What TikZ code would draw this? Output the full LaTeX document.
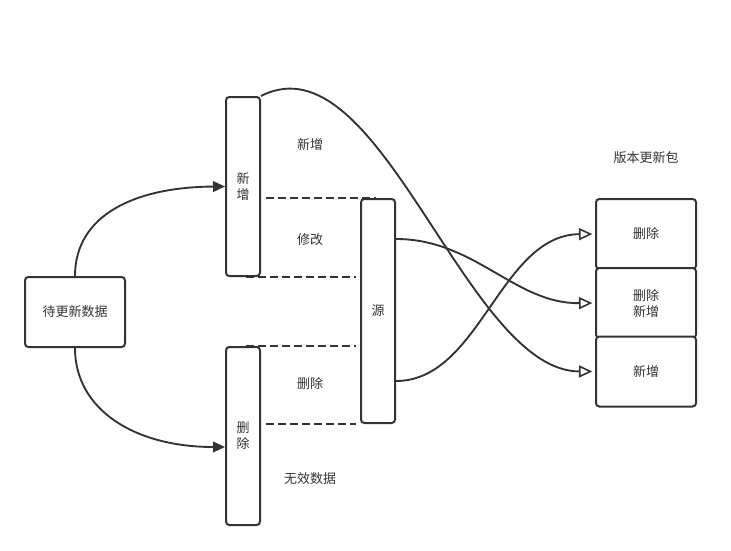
\documentclass[tikz,border=0pt]{standalone}
\usepackage{fontspec}
\newfontfamily\cjk{Noto Sans CJK SC}
\usetikzlibrary{arrows.meta,calc}
\definecolor{ln}{HTML}{333333}
\definecolor{tx}{HTML}{333333}
\begin{document}
\begin{tikzpicture}[x=0.75pt,y=-0.75pt,
  every node/.style={font=\cjk\fontsize{9.75}{12}\selectfont,text=tx,align=center,inner sep=0pt},
  box/.style={draw=ln,line width=1.5pt,rounded corners=2.5pt,fill=white},
  conn/.style={draw=ln,line width=1.4pt},
  dsh/.style={draw=ln,line width=1.4pt,dash pattern=on 6pt off 3pt},
  fa/.style={-{Triangle[length=9pt,width=8pt]}},
  oa/.style={-{Triangle[open,length=10pt,width=9pt,line width=1.2pt]}}]
\useasboundingbox (0,0) rectangle (731,550);
% boxes
\node[box,minimum width=75pt,minimum height=52.5pt] (data) at (75,312) {待更新数据};
\node[box,minimum width=25.5pt,minimum height=134.25pt] (add) at (243,186.5) {新\\增};
\node[box,minimum width=25.5pt,minimum height=133.5pt] (del) at (243,436) {删\\除};
\node[box,minimum width=25.5pt,minimum height=168pt] (src) at (378,311) {源};
\node[box,minimum width=75pt,minimum height=52.5pt] (r1) at (646,234) {删除};
\node[box,minimum width=75pt,minimum height=52.5pt] (r2) at (646,303) {删除\\新增};
\node[box,minimum width=75pt,minimum height=52.5pt] (r3) at (646,371.5) {新增};
% labels
\node (l1) at (310,145) {新增};
\node (l2) at (310,240) {修改};
\node (l3) at (310,384) {删除};
\node (l4) at (310,479) {无效数据};
\node (l5) at (646,158) {版本更新包};
% dashed
\draw[dsh] ([xshift=3.75pt]add.east |- src.north) -- ([xshift=12pt]src.north west);
\draw[dsh] ([xshift=-11pt]add.south east) -- ([xshift=-3pt]src.west |- add.south);
\draw[dsh] ([xshift=-11pt]del.north east) -- ([xshift=-3pt]src.west |- del.north);
\draw[dsh] ([xshift=3.75pt]del.east |- src.south) -- ([xshift=-3pt]src.south west);
% left arrows
\draw[conn,fa] (data.north) .. controls (75,215) and (135,187) .. (add.west);
\draw[conn,fa] (data.south) .. controls (75,410) and (135,447) .. (del.west |- 0,447);
% right curves
\draw[conn,oa] (add.north east) .. controls (380,35) and (465,371) .. ([xshift=-2pt]r3.west);
\draw[conn,oa] (src.east |- 0,239) .. controls (475,239) and (515,304) .. ([xshift=-2pt]r2.west);
\draw[conn,oa] (src.east |- 0,381) .. controls (480,381) and (500,235) .. ([xshift=-2pt]r1.west);
\end{tikzpicture}
\end{document}
